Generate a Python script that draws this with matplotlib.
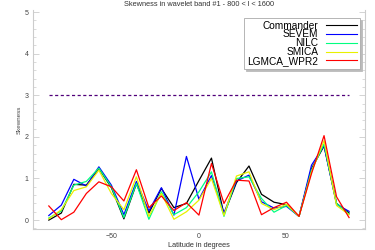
import numpy as np
import matplotlib
matplotlib.use("Agg")
import matplotlib.pyplot as plt
from matplotlib.ticker import MultipleLocator

plt.rcParams['font.family'] = ['Liberation Sans', 'DejaVu Sans']

latitude = [-86.4 + 7.2 * i for i in range(25)]

commander = [0.00, 0.17, 0.86, 0.84, 1.24, 0.78, 0.03, 0.87, 0.17, 0.76, 0.30, 0.40,
             0.95, 1.49, 0.14, 0.90, 1.30, 0.62, 0.43, 0.37, 0.09, 1.24, 1.78, 0.40, 0.17]
sevem = [0.11, 0.36, 0.98, 0.82, 1.28, 0.84, 0.13, 0.93, 0.22, 0.78, 0.12, 1.53,
         0.50, 1.07, 0.17, 0.94, 1.08, 0.44, 0.29, 0.33, 0.09, 1.32, 1.79, 0.38, 0.21]
nilc = [0.05, 0.22, 0.84, 0.93, 1.25, 0.80, 0.06, 0.88, 0.02, 0.68, 0.13, 0.30,
        0.68, 1.16, 0.09, 1.00, 1.04, 0.52, 0.19, 0.35, 0.09, 1.20, 1.83, 0.40, 0.14]
smica = [0.03, 0.25, 0.71, 0.80, 1.20, 0.64, 0.25, 1.04, 0.09, 0.64, 0.02, 0.20,
         0.48, 1.00, 0.11, 1.06, 1.16, 0.40, 0.25, 0.38, 0.09, 1.16, 1.91, 0.35, 0.13]
lgmca = [0.34, 0.01, 0.19, 0.64, 0.92, 0.80, 0.46, 1.21, 0.30, 0.58, 0.23, 0.42,
         0.12, 1.36, 0.40, 0.96, 0.94, 0.13, 0.30, 0.43, 0.09, 1.12, 2.03, 0.56, 0.06]
threshold = [3.0, 3.0]
threshold_x = [latitude[0], latitude[-1]]

series = [("Commander", commander, "#000000"),
          ("SEVEM", sevem, "#0000ff"),
          ("NILC", nilc, "#00ff80"),
          ("SMICA", smica, "#e8f000"),
          ("LGMCA_WPR2", lgmca, "#ff0000")]

fig = plt.figure(figsize=(3.75, 2.5), dpi=100)
ax = fig.add_axes([0.088, 0.083, 0.885, 0.877])

for name, vals, col in series:
    ax.plot(latitude, vals, color=col, lw=0.9, label=name)

ax.plot(threshold_x, threshold, color="#50007a", lw=0.9, ls=(0, (2.5, 2)))

ax.set_xlim(-95.5, 95.5)
ax.set_ylim(-0.22, 5.05)

gray = "#cccccc"
for s in ["left", "bottom", "right"]:
    ax.spines[s].set_color(gray)
    ax.spines[s].set_linewidth(0.8)
ax.spines["top"].set_visible(False)

ax.set_xticks([-50, 0, 50])
ax.set_yticks([0, 1, 2, 3, 4, 5])
ax.yaxis.set_minor_locator(MultipleLocator(0.2))
ax.tick_params(axis="x", length=0, labelsize=5, colors="#444444", pad=3)
ax.tick_params(axis="y", which="major", direction="in", length=4, width=0.6,
               color=gray, labelsize=5, labelcolor="#444444", right=True, pad=3)
ax.tick_params(axis="y", which="minor", direction="in", length=2.5, width=0.5,
               color=gray, right=True)

ax.set_title("Skewness in wavelet band #1 - 800 < l < 1600", fontsize=5.3,
             color="#333333", pad=3)
ax.set_xlabel("Latitude in degrees", fontsize=5.3, color="#333333", labelpad=1)
ax.set_ylabel("Skewness", fontsize=4.5, color="#444444", labelpad=2)

leg = ax.legend(loc="upper right", bbox_to_anchor=(0.985, 0.965), borderaxespad=0,
                fontsize=7.3, markerfirst=False, fancybox=False,
                shadow={"ox": 1.5, "oy": -1.5, "color": "#bbbbbb", "alpha": 1},
                labelspacing=-0.12, handlelength=3.0, handletextpad=0.8,
                borderpad=0.3, framealpha=1, edgecolor="#aaaaaa")
leg.get_frame().set_linewidth(0.6)
for line in leg.get_lines():
    line.set_linewidth(0.8)

fig.savefig("out.png", dpi=100)
